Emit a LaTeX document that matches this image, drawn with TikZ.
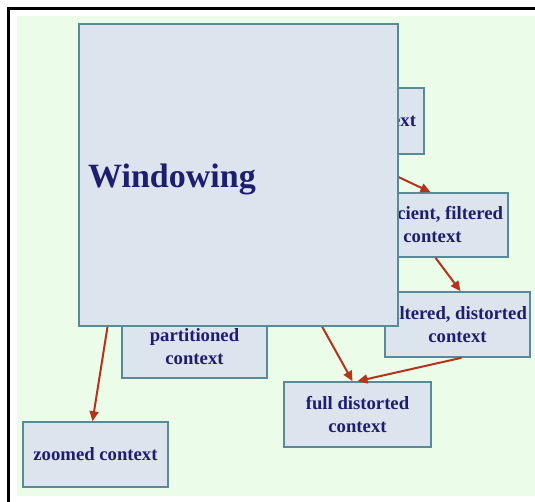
\documentclass[tikz,border=0pt]{standalone}
\usepackage{fontspec}
\setmainfont{Liberation Serif}
\usetikzlibrary{arrows.meta}
\definecolor{bggreen}{HTML}{EBFCE8}
\definecolor{boxfill}{HTML}{DCE4EE}
\definecolor{boxline}{HTML}{5A8A98}
\definecolor{txtnavy}{HTML}{1E1E70}
\definecolor{arrred}{HTML}{B4321E}
\pgfdeclarelayer{back}
\pgfdeclarelayer{mid}
\pgfsetlayers{back,mid,main}
\tikzset{
  ctxbox/.style={draw=boxline, fill=boxfill, line width=1.6pt, inner sep=0pt,
    align=center, text=txtnavy, font=\fontsize{18.7}{23}\selectfont\bfseries},
  flow/.style={draw=arrred, line width=2pt, -{Triangle[length=10pt,width=9pt]}},
}
\begin{document}
\begin{tikzpicture}[x=1pt, y=-1pt]
\useasboundingbox (0,0) rectangle (535,502);
% Windowing (top layer)
\node[ctxbox, minimum width=319pt, minimum height=302pt] (win) at (238.5,175) {};
\node[anchor=base west, inner sep=0pt, text=txtnavy, font=\fontsize{34}{37}\selectfont\bfseries] (wintext) at (88,188) {Windowing};
\begin{pgfonlayer}{back}
  \fill[white] (0,0) rectangle (535,502);
  \fill[bggreen] (17,16) rectangle (535,496);
  \fill[black] (7,7) rectangle (535,10);
  \fill[black] (7,7) rectangle (10,502);
\end{pgfonlayer}
\begin{pgfonlayer}{mid}
  \node[ctxbox, minimum width=145pt, minimum height=66pt, text width=129pt, align=flush right] (ctx) at (351.5,121) {context};
  \node[ctxbox, minimum width=151pt, minimum height=64pt] (suff) at (432.5,225) {sufficient, filtered\\context};
  \node[ctxbox, minimum width=145pt, minimum height=65pt] (filt) at (457.5,324.5) {filtered, distorted\\context};
  \node[ctxbox, minimum width=145pt, minimum height=62pt] (part) at (194.5,347) {partitioned\\context};
  \node[ctxbox, minimum width=147pt, minimum height=65pt] (full) at (357.5,414.5) {full distorted\\context};
  \node[ctxbox, minimum width=145pt, minimum height=65pt] (zoom) at (95.5,454.5) {zoomed context};
  \draw[flow] (ctx.south) -- ([xshift=-2pt]suff.north);
  \draw[flow] ([xshift=3pt]suff.south) -- ([xshift=3pt]filt.north);
  \draw[flow] ([xshift=4pt]filt.south) -- (full.north);
  \draw[flow] (win) -- ([xshift=-5pt]full.north);
  \draw[flow] ([xshift=-131pt]win.south) -- ([xshift=-3pt]zoom.north);
\end{pgfonlayer}
\end{tikzpicture}
\end{document}
